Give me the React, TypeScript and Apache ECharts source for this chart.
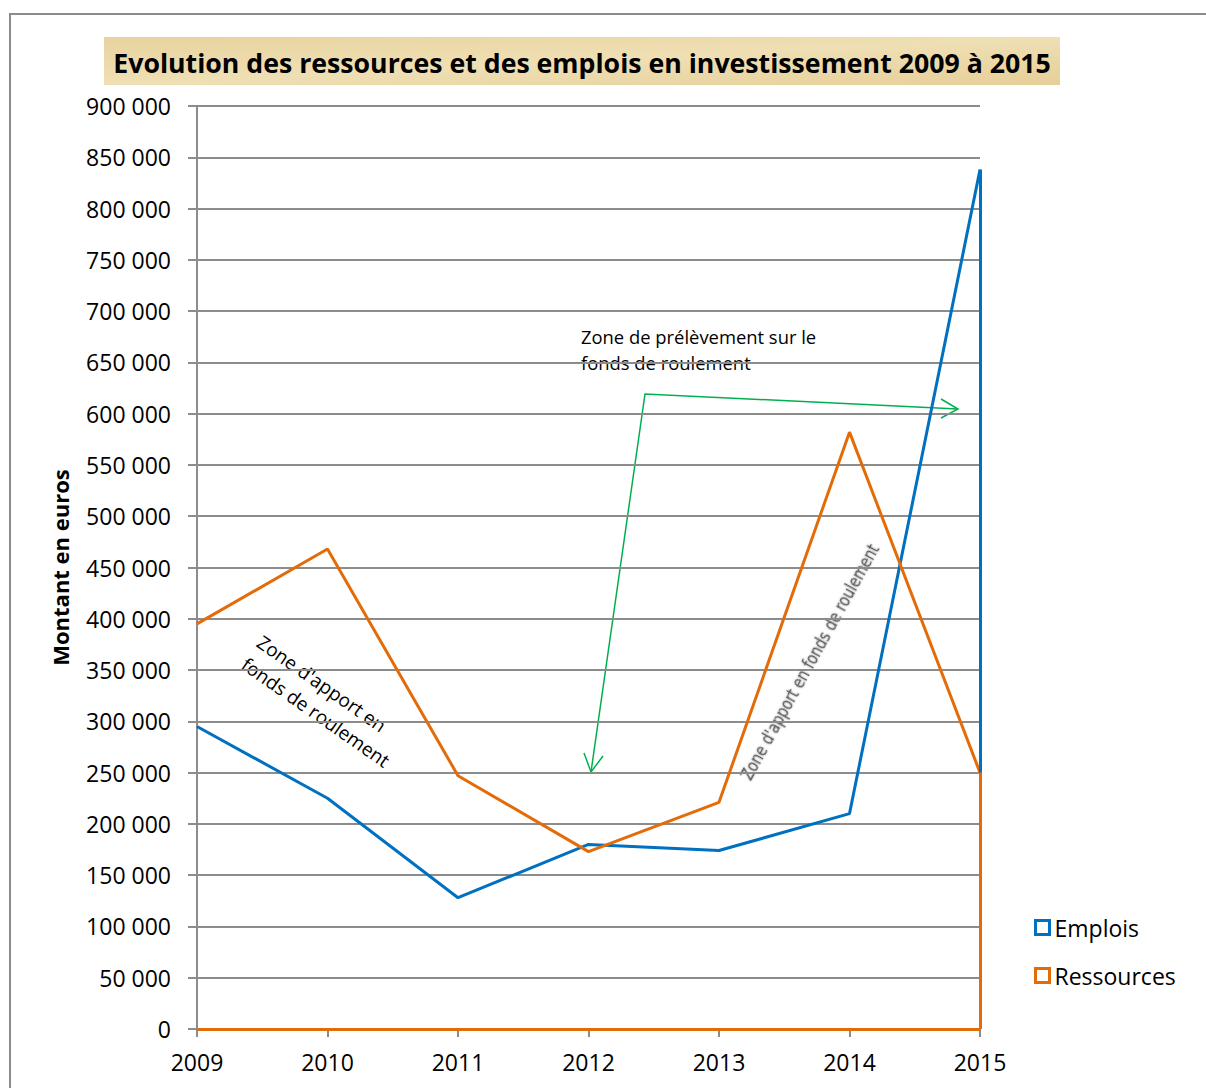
import React, { useEffect, useRef } from "react";
import * as echarts from "echarts";

const years = ["2009", "2010", "2011", "2012", "2013", "2014", "2015"];
const emplois = [295000, 225000, 128000, 180000, 174000, 210000, 838000];
const ressources = [395000, 468000, 247000, 173000, 221000, 582000, 250000];
const yMin = 0;
const yMax = 900000;
const yStep = 50000;

const BLUE = "#0070c0";
const ORANGE = "#e36c09";
const GREEN = "#00b050";
const GRID = "#8c8c8c";
const FONT = "'Open Sans', 'Noto Sans', sans-serif";

const fmt = (v: number) => String(v).replace(/\B(?=(\d{3})+(?!\d))/g, " ");

export default function App() {
  const ref = useRef<HTMLDivElement>(null);
  useEffect(() => {
    document.body.style.margin = "0";
    const chart = echarts.init(ref.current!, undefined, { renderer: "svg" });
    const last = years.length - 1;
    const edge = (vals: number[]) => [
      [{ coord: [years[last], vals[last]] }, { coord: [years[last], 0] }],
      [{ coord: [years[0], 0] }, { coord: [years[last], 0] }],
    ];
    chart.setOption({
      animation: false,
      backgroundColor: "#ffffff",
      textStyle: { fontFamily: FONT },
      grid: { left: 197, right: 226, top: 106, bottom: 59 },
      legend: {
        orient: "vertical",
        left: 1029,
        top: 911,
        icon: "rect",
        itemWidth: 14,
        itemHeight: 14,
        itemGap: 25,
        textStyle: { fontSize: 23, color: "#000", fontFamily: FONT },
        data: [
          { name: "Emplois", itemStyle: { color: "#ffffff", borderColor: BLUE, borderWidth: 3 } },
          { name: "Ressources", itemStyle: { color: "#ffffff", borderColor: ORANGE, borderWidth: 3 } },
        ],
      },
      xAxis: {
        type: "category",
        data: years,
        boundaryGap: false,
        axisLine: { lineStyle: { color: GRID, width: 2 } },
        axisTick: { show: true, length: 8, lineStyle: { color: GRID, width: 2 } },
        axisLabel: { fontSize: 23, color: "#000", margin: 21, fontFamily: FONT },
        splitLine: { show: false },
      },
      yAxis: {
        type: "value",
        min: yMin,
        max: yMax,
        interval: yStep,
        name: "Montant en euros",
        nameLocation: "middle",
        nameGap: 126,
        nameTextStyle: { fontSize: 22, fontWeight: "bold", color: "#000", fontFamily: FONT },
        axisLine: { show: true, lineStyle: { color: GRID, width: 2 } },
        axisTick: { show: true, length: 9, lineStyle: { color: GRID, width: 2 } },
        axisLabel: { fontSize: 23, color: "#000", margin: 26, formatter: fmt, fontFamily: FONT },
        splitLine: { show: true, lineStyle: { color: GRID, width: 2 } },
      },
      series: [
        {
          name: "Emplois",
          type: "line",
          data: emplois,
          symbol: "none",
          color: BLUE,
          lineStyle: { color: BLUE, width: 3 },
          markLine: {
            silent: true,
            symbol: "none",
            label: { show: false },
            lineStyle: { color: BLUE, width: 3, type: "solid" },
            data: edge(emplois),
          },
        },
        {
          name: "Ressources",
          type: "line",
          data: ressources,
          symbol: "none",
          color: ORANGE,
          lineStyle: { color: ORANGE, width: 3 },
          markLine: {
            silent: true,
            symbol: "none",
            label: { show: false },
            lineStyle: { color: ORANGE, width: 3, type: "solid" },
            data: edge(ressources),
          },
        },
      ],
      graphic: [
        {
          type: "rect",
          shape: { x: 10, y: 14, width: 1200, height: 1100 },
          style: { fill: "none", stroke: "#8c8c8c", lineWidth: 2 },
          silent: true,
          z: -10,
        },
        {
          type: "rect",
          shape: { x: 104, y: 37, width: 956, height: 48 },
          style: {
            fill: new echarts.graphic.LinearGradient(0, 0, 1, 1, [
              { offset: 0, color: "#e8d39e" },
              { offset: 0.5, color: "#efdfb4" },
              { offset: 1, color: "#e6cf98" },
            ]),
          },
          silent: true,
        },
        {
          type: "text",
          x: 582,
          y: 62,
          style: {
            text: "Evolution des ressources et des emplois en investissement 2009 à 2015",
            align: "center",
            verticalAlign: "middle",
            fontSize: 26.7,
            fontWeight: "bold",
            fontFamily: FONT,
            fill: "#000",
          },
          silent: true,
        },
        {
          type: "text",
          x: 267,
          y: 629,
          rotation: -0.61,
          style: {
            text: "Zone d'apport en\nfonds de roulement",
            align: "left",
            verticalAlign: "top",
            fontSize: 19,
            lineHeight: 27,
            fontFamily: FONT,
            fill: "#000",
          },
          silent: true,
        },
        {
          type: "text",
          x: 581,
          y: 323,
          style: {
            text: "Zone de prélèvement sur le\nfonds de roulement",
            align: "left",
            verticalAlign: "top",
            fontSize: 18.4,
            lineHeight: 26,
            fontFamily: FONT,
            fill: "#000",
          },
          silent: true,
        },
        {
          type: "text",
          x: 810,
          y: 662,
          rotation: 1.065,
          scaleX: 0.93,
          style: {
            text: "Zone d'apport en fonds de roulement",
            align: "center",
            verticalAlign: "middle",
            fontSize: 17,
            fontFamily: "'Liberation Sans Narrow', 'DejaVu Sans Condensed', 'Open Sans', sans-serif",
            fill: "#555555",
            textShadowColor: "rgba(0,0,0,0.35)",
            textShadowBlur: 2,
          },
          silent: true,
        },
        {
          type: "polyline",
          shape: { points: [[591, 772], [645, 394], [958, 409]] },
          style: { fill: "none", stroke: GREEN, lineWidth: 1.5 },
          silent: true,
        },
        {
          type: "polyline",
          shape: { points: [[584, 753], [591, 772], [603, 756]] },
          style: { fill: "none", stroke: GREEN, lineWidth: 1.5 },
          silent: true,
        },
        {
          type: "polyline",
          shape: { points: [[941, 399], [958, 409], [941, 418]] },
          style: { fill: "none", stroke: GREEN, lineWidth: 1.5 },
          silent: true,
        },
      ],
    });
    return () => chart.dispose();
  }, []);
  return <div ref={ref} style={{ width: 1206, height: 1088 }} />;
}
